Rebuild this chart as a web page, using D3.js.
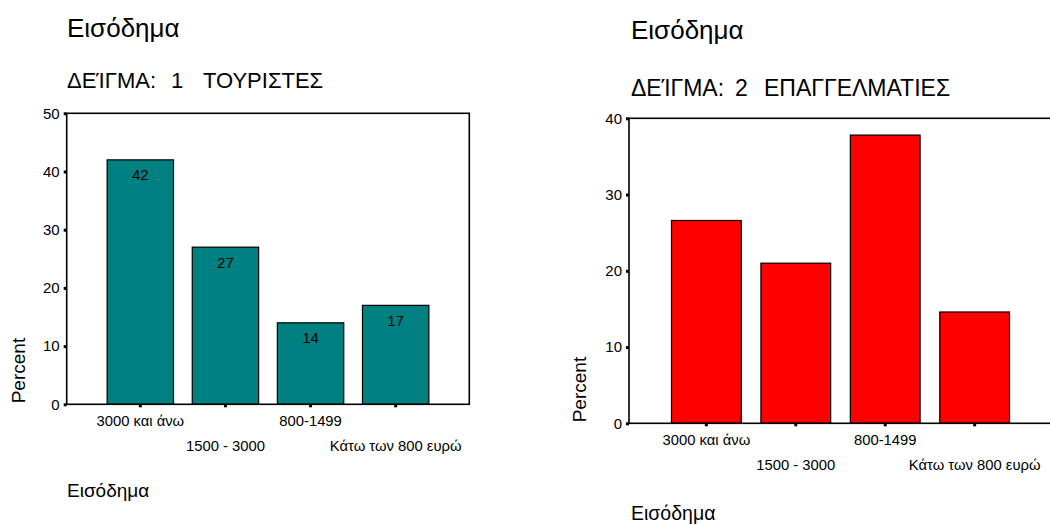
<!DOCTYPE html>
<html>
<head>
<meta charset="utf-8">
<script src="https://cdn.jsdelivr.net/npm/d3@7/dist/d3.min.js"></script>
<style>
  html, body { margin: 0; padding: 0; background: #fff; }
  svg { display: block; font-family: "Liberation Sans", Arial, sans-serif; }
</style>
</head>
<body>
<svg id="chart" width="1050" height="525"></svg>
<script>
// Income brackets (x categories) shared by both samples
const categories = ["3000 και άνω", "1500 - 3000", "800-1499", "Κάτω των 800 ευρώ"];

// Percent of respondents per bracket
const touristPercent = [42, 27, 14, 17];
const professionalPercent = [26.6, 21.0, 37.8, 14.6];

// Y tick values
const touristTicks = [0, 10, 20, 30, 40, 50];
const professionalTicks = [0, 10, 20, 30, 40];

// Text
const chartTitle = "Εισόδημα";
const sampleLabel = "ΔΕΊΓΜΑ:";
const touristSample = ["1", "ΤΟΥΡΙΣΤΕΣ"];
const professionalSample = ["2", "ΕΠΑΓΓΕΛΜΑΤΙΕΣ"];
const yTitle = "Percent";
const xTitle = "Εισόδημα";

const svg = d3.select("#chart");

const panels = [
  {
    values: touristPercent, ticks: touristTicks, max: 50, sample: touristSample,
    color: "#008080", showValues: true,
    x0: 66.7, x1: 469.3, yTop: 113.3, yBottom: 404.3,
    textX: 67, titleY: 37, subY: 88, subSize: 22, subOffsets: [0, 104, 136],
    yTitleX: 25, xTitleY: 497, xTitleSize: 19
  },
  {
    values: professionalPercent, ticks: professionalTicks, max: 40, sample: professionalSample,
    color: "#ff0000", showValues: false,
    x0: 629, x1: 1052, yTop: 118.3, yBottom: 423.3,
    textX: 631, titleY: 39, subY: 96, subSize: 23, subOffsets: [0, 104, 133],
    yTitleX: 586, xTitleY: 520, xTitleSize: 19.5
  }
];

panels.forEach(p => {
  const g = svg.append("g");

  const x = d3.scaleBand()
    .domain(categories)
    .range([p.x0, p.x1])
    .paddingInner(0.22)
    .paddingOuter(0.475);

  const y = d3.scaleLinear()
    .domain([0, p.max])
    .range([p.yBottom, p.yTop]);

  // Titles
  g.append("text")
    .attr("x", p.textX).attr("y", p.titleY)
    .attr("font-size", 26).attr("fill", "#000")
    .text(chartTitle);

  const sub = g.append("text")
    .attr("y", p.subY)
    .attr("font-size", p.subSize).attr("fill", "#000");
  [sampleLabel, ...p.sample].forEach((s, i) => {
    sub.append("tspan").attr("x", p.textX + p.subOffsets[i]).text(s);
  });

  // Bars
  g.selectAll("rect.bar")
    .data(p.values)
    .join("rect")
    .attr("class", "bar")
    .attr("x", (d, i) => x(categories[i]))
    .attr("y", d => y(d))
    .attr("width", x.bandwidth())
    .attr("height", d => y(0) - y(d))
    .attr("fill", p.color)
    .attr("stroke", "#000")
    .attr("stroke-width", 1.2);

  if (p.showValues) {
    g.selectAll("text.value")
      .data(p.values)
      .join("text")
      .attr("class", "value")
      .attr("x", (d, i) => x(categories[i]) + x.bandwidth() / 2)
      .attr("y", d => y(d) + 20.5)
      .attr("text-anchor", "middle")
      .attr("font-size", 15)
      .attr("fill", "#000")
      .text(d => d3.format("d")(d));
  }

  // Frame around the plot area
  g.append("rect")
    .attr("x", p.x0).attr("y", p.yTop)
    .attr("width", p.x1 - p.x0).attr("height", p.yBottom - p.yTop)
    .attr("fill", "none").attr("stroke", "#000").attr("stroke-width", 1.6);

  // Y axis
  const yAxis = g.append("g")
    .attr("transform", `translate(${p.x0},0)`)
    .call(d3.axisLeft(y).tickValues(p.ticks).tickSize(3).tickPadding(4).tickFormat(d3.format("d")));
  yAxis.select(".domain").remove();
  yAxis.selectAll(".tick line").attr("stroke", "#000").attr("stroke-width", 3);
  yAxis.selectAll(".tick text")
    .attr("font-family", "Liberation Sans, Arial, sans-serif")
    .attr("font-size", 15).attr("fill", "#000");

  // X axis with staggered labels
  const xAxis = g.append("g")
    .attr("transform", `translate(0,${p.yBottom})`)
    .call(d3.axisBottom(x).tickSize(3).tickSizeOuter(0));
  xAxis.select(".domain").remove();
  xAxis.selectAll(".tick line").attr("stroke", "#000").attr("stroke-width", 3);
  xAxis.selectAll(".tick text")
    .attr("font-family", "Liberation Sans, Arial, sans-serif")
    .attr("font-size", 14.8).attr("fill", "#000")
    .attr("y", (d, i) => i % 2 ? 36.5 : 11.5);

  // Axis titles
  g.append("text")
    .attr("transform", `translate(${p.yTitleX},${p.yBottom - 1}) rotate(-90)`)
    .attr("text-anchor", "start")
    .attr("font-size", 19).attr("fill", "#000")
    .text(yTitle);

  g.append("text")
    .attr("x", p.textX).attr("y", p.xTitleY)
    .attr("font-size", p.xTitleSize).attr("fill", "#000")
    .text(xTitle);
});
</script>
</body>
</html>
